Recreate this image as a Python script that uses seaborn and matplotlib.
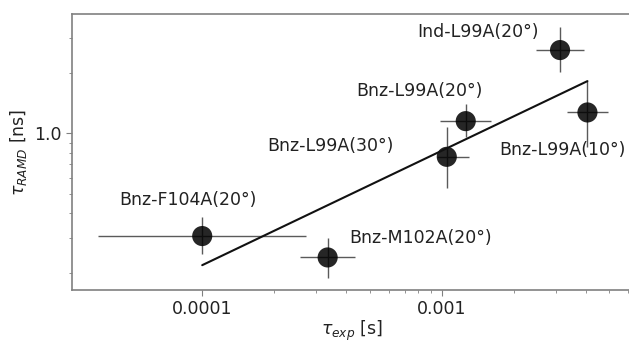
import numpy as np
import pandas as pd
from matplotlib import pyplot as plt
from matplotlib.ticker import FormatStrFormatter, NullFormatter, LogLocator
import seaborn as sb

"""DATA"""

names = ["Bnz-F104A(20°)", "Bnz-M102A(20°)", "Bnz-L99A(30°)",
         "Bnz-L99A(20°)", "Ind-L99A(20°)", "Bnz-L99A(10°)"]
tau_exp = [1.0e-4, 3.34e-4, 1.05e-3, 1.26e-3, 3.12e-3, 4.06e-3]
tau_exp_lo = [3.66e-5, 2.56e-4, 9.53e-4, 9.84e-4, 2.48e-3, 3.32e-3]
tau_exp_hi = [2.71e-4, 4.35e-4, 1.30e-3, 1.61e-3, 3.91e-3, 4.97e-3]
tau_ramd = [0.307, 0.240, 0.764, 1.152, 2.61, 1.273]
tau_ramd_lo = [0.249, 0.190, 0.535, 0.962, 2.03, 0.857]
tau_ramd_hi = [0.382, 0.299, 1.079, 1.401, 3.41, 1.826]

# fitted line end points
fit_x = [1.0e-4, 4.06e-3]
fit_y = [0.2196, 1.826]

# label offsets in points (dx, dy)
label_dx = [-10, 67, -84, -33, -59, -18]
label_dy = [26, 14, 8, 22, 13, -27]

"""PLOT"""

df = pd.DataFrame({"name": names, "tau_exp": tau_exp, "tau_ramd": tau_ramd})
df_fit = pd.DataFrame({"x": fit_x, "y": fit_y})

sb.set_style("ticks")
plt.rcParams["font.family"] = ["DejaVu Sans"]
plt.rcParams["font.size"] = 12.5

fig = plt.figure(figsize=(6.29, 3.43), dpi=100)
ax = fig.add_axes([0.1145, 0.1545, 0.8905, 0.8045])

xerr = [np.array(tau_exp) - np.array(tau_exp_lo), np.array(tau_exp_hi) - np.array(tau_exp)]
yerr = [np.array(tau_ramd) - np.array(tau_ramd_lo), np.array(tau_ramd_hi) - np.array(tau_ramd)]
ax.errorbar(df.tau_exp, df.tau_ramd, xerr=xerr, yerr=yerr, fmt="none",
            ecolor="#5a5a5a", elinewidth=1.0, capsize=0, zorder=2)

sb.scatterplot(data=df, x="tau_exp", y="tau_ramd", ax=ax, color="black",
               s=210, alpha=0.85, edgecolor="none", zorder=3)

sb.lineplot(data=df_fit, x="x", y="y", ax=ax, color="#111111", lw=1.5, zorder=4)

for i, row in df.iterrows():
    ax.annotate(row["name"], (row.tau_exp, row.tau_ramd),
                xytext=(label_dx[i], label_dy[i]), textcoords="offset points",
                ha="center", va="center", fontsize=12.5, color="#222222")

ax.set_xscale("log")
ax.set_yscale("log")
ax.set_xlim(2.86e-5, 6.24e-3)
ax.set_ylim(0.165, 3.95)

# minor x ticks only from 2e-4 onwards, as in the original
ax.set_xticks([1e-4, 1e-3])
ax.set_xticks([k * 1e-4 for k in range(2, 10)] + [k * 1e-3 for k in range(2, 7)], minor=True)
ax.xaxis.set_major_formatter(FormatStrFormatter("%g"))
ax.xaxis.set_minor_formatter(NullFormatter())
ax.set_xlim(2.86e-5, 6.24e-3)
ax.yaxis.set_major_locator(LogLocator(base=10))
ax.yaxis.set_major_formatter(FormatStrFormatter("%.1f"))
ax.yaxis.set_minor_formatter(NullFormatter())

for sp in ax.spines.values():
    sp.set_color("#808080")
    sp.set_linewidth(1.2)
ax.tick_params(which="both", colors="#808080", labelcolor="#222222", labelsize=12.5)
ax.tick_params(which="major", length=4)
ax.tick_params(which="minor", length=2.5)

ax.set_xlabel(r"$\tau_{exp}$ [s]", fontsize=12.5, color="#222222", labelpad=0)
ax.set_ylabel(r"$\tau_{RAMD}$ [ns]", fontsize=12.5, color="#222222", labelpad=4)

plt.savefig("out.png", dpi=100)
plt.close()
